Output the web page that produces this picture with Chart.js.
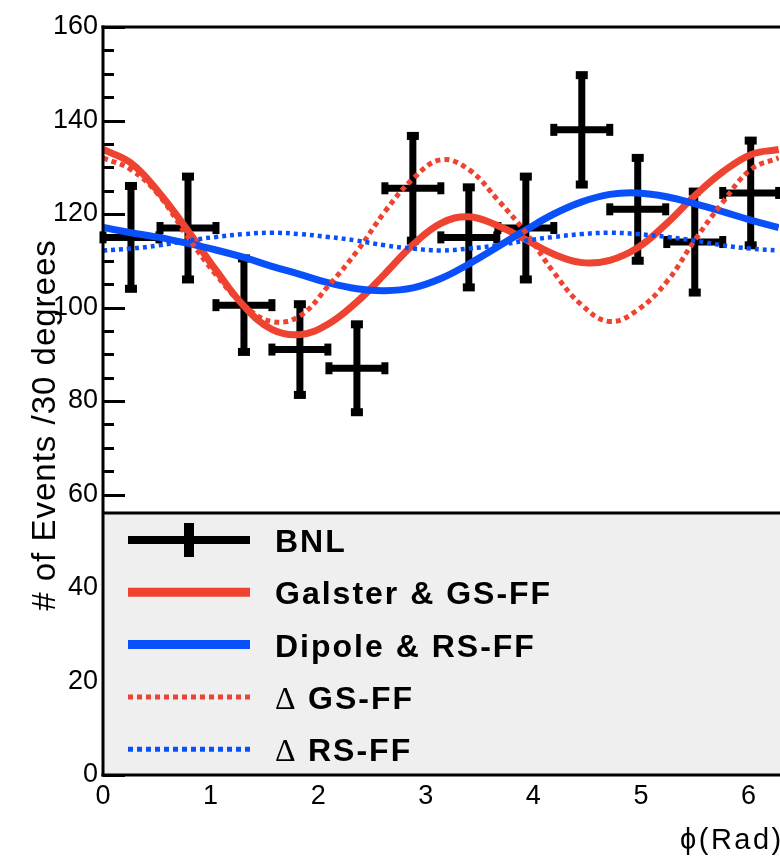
<!DOCTYPE html>
<html>
<head>
<meta charset="utf-8">
<title>BNL phi distribution</title>
<script src="https://cdn.jsdelivr.net/npm/chart.js@4"></script>
<style>
  html, body { margin: 0; padding: 0; background: #fff; overflow: hidden; }
  canvas { display: block; }
</style>
</head>
<body>
<canvas id="phiChart" width="790" height="861"></canvas>
<script>
// BNL data, 30 degree bins
const bnlPhi = [0.26, 0.79, 1.31, 1.83, 2.36, 2.88, 3.40, 3.93, 4.45, 4.97, 5.50, 6.02];
const bnlCounts = [115, 117, 100.5, 91, 87, 125.5, 115, 117, 138, 121, 114, 124.5];
const bnlErr = [11, 11, 10, 9.7, 9.4, 11.2, 10.7, 11, 11.7, 11, 10.8, 11.2];
const bnlPhiErr = 0.26;

// model curves
const curvePhi = [0, 0.26, 0.52, 0.79, 1.05, 1.31, 1.57, 1.83, 2.09, 2.36, 2.62, 2.88, 3.14,
  3.40, 3.67, 3.93, 4.19, 4.45, 4.71, 4.97, 5.24, 5.50, 5.76, 6.02, 6.28];
const galsterGS = [133.8, 130.9, 124.6, 116.4, 108.0, 100.3, 95.3, 94.2, 96.4, 101.2, 107.2, 113.4, 118.0,
  119.4, 117.5, 114.5, 111.4, 109.6, 110.1, 112.8, 118.0, 123.9, 129.0, 132.7, 133.8];
const dipoleRS = [117.1, 116.0, 115.0, 113.7, 112.3, 110.7, 108.8, 107.1, 105.3, 104.0, 103.6, 104.2, 106.2,
  109.3, 113.0, 116.6, 120.0, 122.6, 124.2, 124.5, 123.7, 122.2, 120.5, 118.7, 117.1];
const deltaGS = [132.0, 129.5, 124.0, 115.0, 107.0, 100.5, 97.0, 98.2, 104.5, 112.0, 120.5, 127.5, 131.6,
  129.5, 123.0, 116.0, 107.5, 100.5, 97.0, 99.5, 105.5, 114.4, 122.5, 129.5, 132.0];
const deltaRS = [112.2, 112.6, 113.3, 114.3, 115.1, 115.7, 116.0, 115.7, 115.1, 114.3, 113.3, 112.6, 112.2,
  112.6, 113.3, 114.3, 115.1, 115.7, 116.0, 115.7, 115.1, 114.3, 113.3, 112.6, 112.2];

const xTicks = [0, 1, 2, 3, 4, 5, 6];
const yTicks = [0, 20, 40, 60, 80, 100, 120, 140, 160];
const yMinorStep = 5;
const legendLabels = ["BNL", "Galster & GS-FF", "Dipole & RS-FF", "\u0394 GS-FF", "\u0394 RS-FF"];
const xTitle = "\u03d5(Rad)";
const yTitle = "# of Events /30 degrees";

const RED = "#ee4330";
const BLUE = "#0a50fa";
const SANS = "'Liberation Sans', Arial, sans-serif";

function toPoints(xs, ys) {
  return xs.map((x, i) => ({ x: x, y: ys[i] }));
}

// error bars are drawn under the curves
const errorBars = {
  id: "errorBars",
  beforeDatasetsDraw(chart) {
    const { ctx, scales: { x, y } } = chart;
    ctx.save();
    ctx.fillStyle = "#000";
    ctx.strokeStyle = "#000";
    ctx.lineWidth = 7;
    ctx.lineCap = "butt";
    bnlPhi.forEach((phi, i) => {
      const cx = x.getPixelForValue(phi);
      const cy = y.getPixelForValue(bnlCounts[i]);
      const top = y.getPixelForValue(bnlCounts[i] + bnlErr[i]);
      const bot = y.getPixelForValue(bnlCounts[i] - bnlErr[i]);
      const left = x.getPixelForValue(phi - bnlPhiErr);
      const right = x.getPixelForValue(phi + bnlPhiErr);
      ctx.beginPath();
      ctx.moveTo(cx, top); ctx.lineTo(cx, bot);
      ctx.moveTo(left, cy); ctx.lineTo(right, cy);
      ctx.stroke();
      ctx.fillRect(cx - 6, top - 4, 12, 8);
      ctx.fillRect(cx - 6, bot - 4, 12, 8);
      ctx.fillRect(left - 3.5, cy - 6, 7, 12);
      ctx.fillRect(right - 3.5, cy - 6, 7, 12);
    });
    // inward ticks on the y axis
    const a = chart.chartArea;
    ctx.lineWidth = 3;
    ctx.beginPath();
    for (let v = 0; v <= 160; v += yMinorStep) {
      const py = Math.round(y.getPixelForValue(v)) + 0.5;
      const len = yTicks.includes(v) ? 22 : 11;
      ctx.moveTo(a.left, py);
      ctx.lineTo(a.left + len, py);
    }
    ctx.stroke();
    ctx.restore();
  }
};

// grey legend box over the lower part of the frame
const legendBox = {
  id: "legendBox",
  afterDatasetsDraw(chart) {
    const { ctx, chartArea: a } = chart;
    const boxTop = 513;
    ctx.save();
    ctx.fillStyle = "#efefef";
    ctx.fillRect(a.left, boxTop, chart.width - a.left, a.bottom - boxTop);
    ctx.fillStyle = "#000";
    ctx.fillRect(a.left, boxTop - 1.5, chart.width - a.left, 3);

    const styles = [
      { color: "#000", width: 8, dash: [] },
      { color: RED, width: 9, dash: [] },
      { color: BLUE, width: 9, dash: [] },
      { color: RED, width: 5, dash: [5, 4] },
      { color: BLUE, width: 5, dash: [5, 4] }
    ];
    const x0 = 128, x1 = 250;
    legendLabels.forEach((label, i) => {
      const yy = 540 + i * 52.3;
      const s = styles[i];
      ctx.strokeStyle = s.color;
      ctx.lineWidth = s.width;
      ctx.setLineDash(s.dash);
      ctx.beginPath();
      ctx.moveTo(x0, yy); ctx.lineTo(x1, yy);
      ctx.stroke();
      ctx.setLineDash([]);
      if (i === 0) {
        ctx.fillStyle = "#000";
        ctx.fillRect(184, yy - 17, 10, 34);
      }
      ctx.fillStyle = "#000";
      ctx.textBaseline = "alphabetic";
      ctx.textAlign = "left";
      let tx = 275;
      let text = label;
      if (label.startsWith("\u0394 ")) {
        ctx.letterSpacing = "0px";
        ctx.font = "32px 'Liberation Serif', serif";
        ctx.fillText("\u0394", tx, yy + 12);
        tx = 308;
        text = label.slice(2);
      }
      ctx.letterSpacing = "2px";
      ctx.font = "bold 32px " + SANS;
      ctx.fillText(text, tx, yy + 12);
    });
    ctx.restore();
  }
};

// frame lines and axis titles
const frame = {
  id: "frame",
  afterDraw(chart) {
    const { ctx, chartArea: a } = chart;
    ctx.save();
    ctx.fillStyle = "#000";
    ctx.fillRect(a.left - 1.5, a.top - 1.5, 3, a.bottom - a.top + 3);
    ctx.fillRect(a.left - 1.5, a.top - 1.5, chart.width - a.left, 3);
    ctx.fillRect(a.left - 1.5, a.bottom - 1.5, chart.width - a.left, 3);

    ctx.letterSpacing = "1px";
    ctx.font = "33px " + SANS;
    ctx.textAlign = "center";
    ctx.textBaseline = "alphabetic";
    ctx.translate(55, 425);
    ctx.rotate(-Math.PI / 2);
    ctx.fillText(yTitle, 0, 0);
    ctx.setTransform(1, 0, 0, 1, 0, 0);

    ctx.letterSpacing = "2.5px";
    ctx.font = "29px " + SANS;
    ctx.textAlign = "left";
    ctx.fillText(xTitle, 680, 849);
    ctx.restore();
  }
};

const tickFont = { family: SANS, size: 27 };

new Chart(document.getElementById("phiChart").getContext("2d"), {
  type: "scatter",
  data: {
    datasets: [
      { label: "\u0394 RS-FF", data: toPoints(curvePhi, deltaRS), showLine: true, borderColor: BLUE,
        borderWidth: 4.5, borderDash: [4, 4], pointRadius: 0, tension: 0.4, fill: false },
      { label: "\u0394 GS-FF", data: toPoints(curvePhi, deltaGS), showLine: true, borderColor: RED,
        borderWidth: 5, borderDash: [5, 4], pointRadius: 0, tension: 0.4, fill: false },
      { label: "Dipole & RS-FF", data: toPoints(curvePhi, dipoleRS), showLine: true, borderColor: BLUE,
        borderWidth: 7, pointRadius: 0, tension: 0.4, fill: false },
      { label: "Galster & GS-FF", data: toPoints(curvePhi, galsterGS), showLine: true, borderColor: RED,
        borderWidth: 7, pointRadius: 0, tension: 0.4, fill: false }
    ]
  },
  options: {
    responsive: false,
    animation: false,
    events: [],
    layout: { padding: { top: 27, right: 11, left: 0, bottom: 0 } },
    plugins: { legend: { display: false }, tooltip: { enabled: false } },
    scales: {
      x: {
        type: "linear",
        min: 0,
        max: 6.283,
        afterFit: (s) => { s.height = 86; },
        afterBuildTicks: (s) => { s.ticks = xTicks.map(v => ({ value: v })); },
        grid: { display: false, drawTicks: false },
        border: { display: false },
        ticks: { font: tickFont, color: "#000", padding: 5, maxRotation: 0, autoSkip: false }
      },
      y: {
        type: "linear",
        min: 0,
        max: 160,
        afterFit: (s) => { s.width = 103; },
        afterBuildTicks: (s) => { s.ticks = yTicks.map(v => ({ value: v })); },
        grid: { display: false, drawTicks: false },
        border: { display: false },
        ticks: { font: tickFont, color: "#000", padding: 5, autoSkip: false }
      }
    }
  },
  plugins: [errorBars, legendBox, frame]
});
</script>
</body>
</html>
